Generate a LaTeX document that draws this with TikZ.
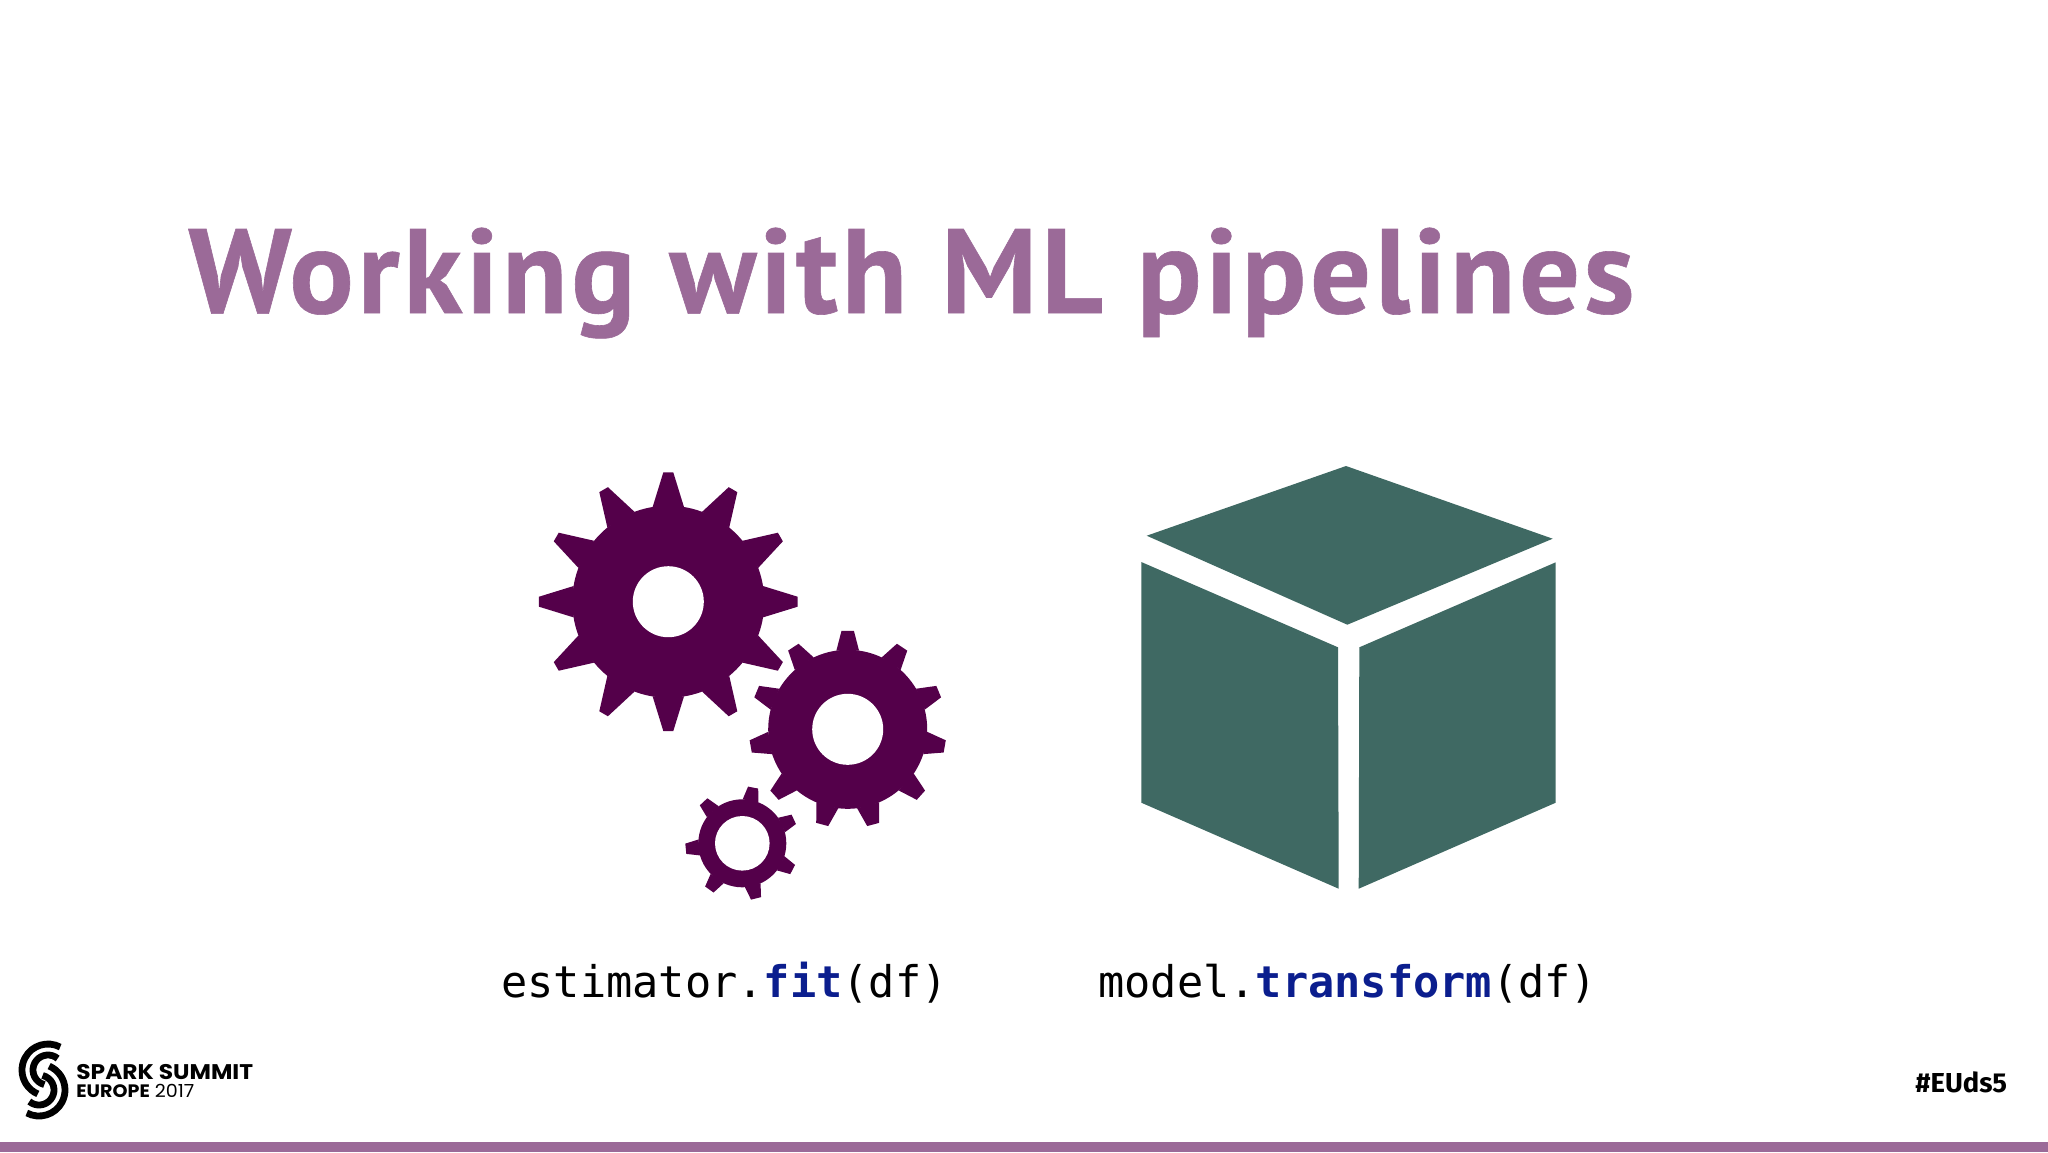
\documentclass[tikz,border=0pt]{standalone}
\usepackage{fontspec}
\setmainfont{PT Sans}
\setmonofont{DejaVu Sans Mono}
\newfontfamily\logofont{Poppins}
\newfontfamily\tagfont{Fira Sans}
\definecolor{slidepurple}{HTML}{9B6A98}
\definecolor{gearpurple}{HTML}{54004A}
\definecolor{boxgreen}{HTML}{3F6963}
\definecolor{codeblue}{HTML}{0B1E8E}

% centre x, centre y, tooth angles, tip r, root r, tip half angle, base half angle, hole r
\newcommand{\gearwheel}[8]{
  \begin{scope}[shift={(#1,#2)},yscale=-1]
    \fill[gearpurple] (0,0) circle (#5);
    \foreach \angle in {#3} {
      \fill[gearpurple] (\angle-#7:#5) -- (\angle-#6:#4) -- (\angle+#6:#4) -- (\angle+#7:#5) -- cycle;
    }
    \fill[white] (0,0) circle (#8);
  \end{scope}
}

\tikzset{
  codetext/.style={anchor=base west, inner sep=0pt, font=\ttfamily\fontsize{21.8}{24}\selectfont},
  logoarc/.style={draw=black, line width=3.4pt}
}

\begin{document}
\begin{tikzpicture}[x=0.5pt,y=-0.5pt]
\useasboundingbox (0,0) rectangle (2048,1152);

% Title and bottom bar
\node[anchor=base west, inner sep=0pt, text=slidepurple, font=\bfseries\fontsize{60}{70}\selectfont\addfontfeatures{LetterSpace=3.15,FakeBold=0.5}] (title) at (188,313) {Working with ML pipelines};
\fill[slidepurple] (0,1142) rectangle (2048,1152);

% Gears
\gearwheel{668.3}{601.7}{0,30,...,330}{129.5}{96}{2.2}{9.4}{35.5}
\gearwheel{847.7}{729.3}{90,56.5,22.5,-10,-42,-75,-105,-138,-170,157.5,123.5}{98.7}{79.5}{3.6}{8.2}{35.5}
\gearwheel{742.3}{843.3}{79,25,-27.5,-76,-125.5,185.5,133}{57}{44}{5.2}{10.5}{27.3}

% Cube
\fill[boxgreen] (1346,466) -- (1552.7,538.7) -- (1347.3,624.7) -- (1146.7,535.7) -- cycle;
\fill[boxgreen] (1141.3,562) -- (1338,647.3) -- (1338.7,888.7) -- (1141.3,802.7) -- cycle;
\fill[boxgreen] (1555.7,562.3) -- (1359.3,647.3) -- (1358.7,888.7) -- (1555.7,802.7) -- cycle;

% Code labels
\node[codetext] (fitcode) at (501,997) {estimator.\textcolor{codeblue}{\bfseries fit}(df)};
\node[codetext] (transformcode) at (1098,997) {model.\textcolor{codeblue}{\bfseries transform}(df)};

% Logo
\foreach \cx/\cy/\turn in {48/1070/0,39/1090/180} {
  \begin{scope}[shift={(\cx,\cy)},yscale=-1]
    \draw[logoarc] ({62+\turn}:26) arc[start angle={62+\turn}, end angle={247+\turn}, radius=26];
    \draw[logoarc] ({50+\turn}:15) arc[start angle={50+\turn}, end angle={256+\turn}, radius=15];
  \end{scope}
}
\node[anchor=base west, inner sep=0pt, font=\logofont\bfseries\fontsize{10.6}{12}\selectfont] (sparktext) at (76,1079) {\scalebox{1.1}[1]{SPARK SUMMIT}};
\node[anchor=base west, inner sep=0pt, font=\logofont\fontsize{9}{11}\selectfont] (europetext) at (76,1097) {\scalebox{1.06}[1]{\textbf{EUROPE} 2017}};
\node[anchor=base west, inner sep=0pt, font=\tagfont\bfseries\fontsize{13.7}{15}\selectfont] (hashtag) at (1915,1092) {\#EUds5};
\end{tikzpicture}
\end{document}
